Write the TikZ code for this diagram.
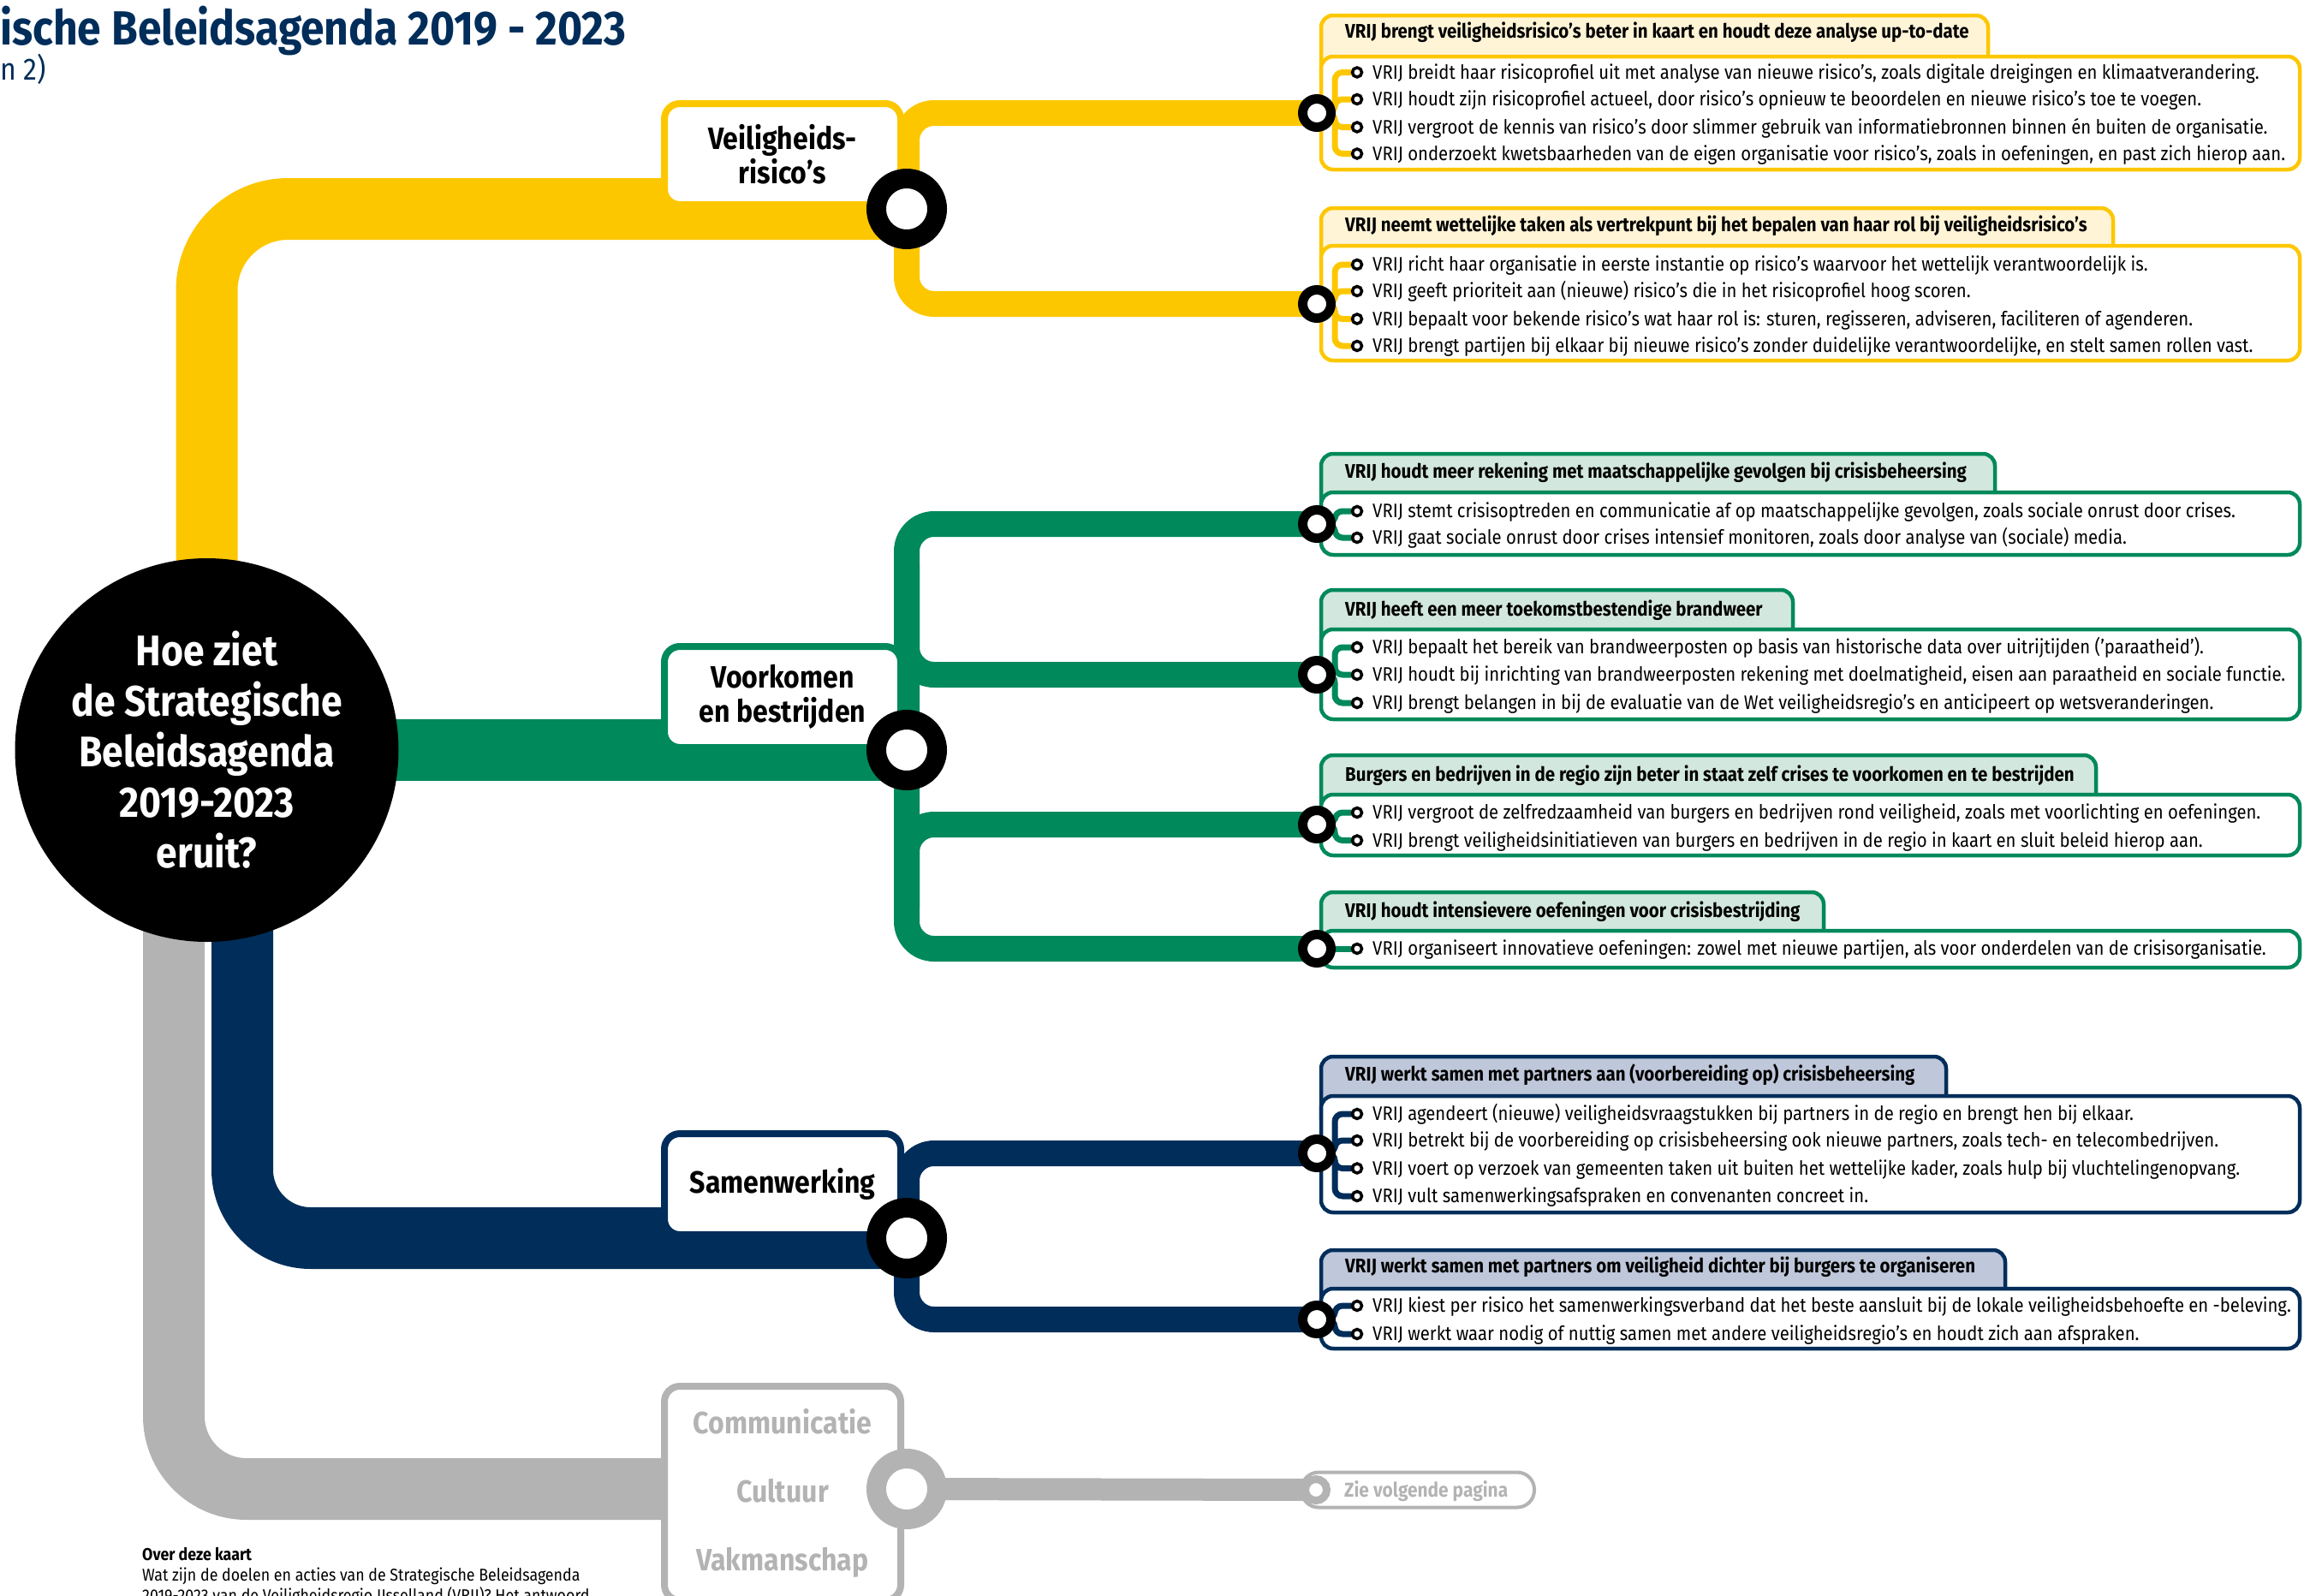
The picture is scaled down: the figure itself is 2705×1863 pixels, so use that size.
\documentclass[tikz,border=0pt]{standalone}
\usepackage{fontspec}
\setmainfont{Fira Sans}[FakeStretch=0.89]
\usetikzlibrary{calc}

\definecolor{vyellow}{RGB}{253,199,0}
\definecolor{vgreen}{RGB}{0,137,90}
\definecolor{vnavy}{RGB}{0,45,90}
\definecolor{vgrey}{RGB}{179,179,179}
\definecolor{lyellow}{RGB}{255,244,214}
\definecolor{lgreen}{RGB}{210,231,221}
\definecolor{lnavy}{RGB}{191,199,218}

\tikzset{
  trunk/.style={line width=72pt},
  branch/.style={line width=30pt, rounded corners=32pt},
  stub/.style={line width=7pt, rounded corners=9pt},
  labelbox/.style={draw, fill=white, line width=8pt, rounded corners=18pt,
    minimum width=276pt, minimum height=118pt, inner sep=0, align=center,
    font=\bfseries\fontsize{36}{40}\selectfont},
  junring/.style={circle, draw=black, fill=white, line width=23pt, minimum size=71pt, inner sep=0},
  goalring/.style={circle, draw=black, fill=white, line width=11pt, minimum size=33pt, inner sep=0},
  itemring/.style={circle, draw=black, fill=white, line width=3.5pt, minimum size=11pt, inner sep=0},
  tabbox/.style={line width=4.5pt, rounded corners=14pt},
  bodybox/.style={line width=4.5pt, fill=white, rounded corners=14pt},
  headtext/.style={anchor=base west, inner sep=0, font=\bfseries\fontsize{23}{27}\selectfont},
  itemtext/.style={anchor=base west, inner sep=0, font=\fontsize{22.8}{27}\selectfont},
  smalltext/.style={anchor=base west, inner sep=0, font=\fontsize{20}{24}\selectfont},
}

\begin{document}
\begin{tikzpicture}[x=1pt, y=-1pt]
\useasboundingbox (0,0) rectangle (2705,1863);

% stations
\coordinate (hub) at (241.5,876);
\coordinate (hubn) at (283,876);
\coordinate (hubg) at (203,876);
\coordinate (j1) at (1059,244);
\coordinate (j2) at (1059,876);
\coordinate (j3) at (1059,1446);
\coordinate (j4) at (1059,1739);
\coordinate (j2up) at (1059,660);
\coordinate (j2dn) at (1059,1060);
\coordinate (g1) at (1538,132);
\coordinate (g2) at (1538,355);
\coordinate (g3) at (1538,612);
\coordinate (g4) at (1538,788);
\coordinate (g5) at (1538,963);
\coordinate (g6) at (1538,1108);
\coordinate (g7) at (1538,1347);
\coordinate (g8) at (1538,1541);
\coordinate (g9) at (1537,1740);

% title
\node[anchor=base west, inner sep=0, text=vnavy, font=\bfseries\fontsize{56}{60}\selectfont] (title) at (0,52) {ische Beleidsagenda 2019 - 2023};
\node[anchor=base west, inner sep=0, text=vnavy, font=\fontsize{36}{42}\selectfont] (subtitle) at (0,93) {n 2)};

% goal boxes
\foreach \gc/\lc/\gt/\gm/\gb/\gr in {vyellow/lyellow/18/66/198/2322,
    vyellow/lyellow/243/287/421/2468, vgreen/lgreen/530/575/648/2330,
    vgreen/lgreen/689/735/840/2094, vgreen/lgreen/882/928/999/2448,
    vgreen/lgreen/1042/1087/1130/2130, vnavy/lnavy/1234/1280/1416/2273,
    vnavy/lnavy/1460/1505/1575/2342}
{
  \draw[tabbox, draw=\gc, fill=\lc] (1543,\gt) rectangle (\gr,\gm+40);
  \draw[bodybox, draw=\gc] (1543,\gm) rectangle (2686,\gb);
}
\node[draw=vgrey, line width=4pt, rounded corners=20pt, minimum width=272pt, minimum height=41pt, inner sep=0] (pill) at (1656,1740) {};

% lines
\draw[trunk, vyellow, rounded corners=95pt] (hub) |- (j1);
\draw[trunk, vnavy, rounded corners=80pt] (hubn) |- (j3);
\draw[trunk, vgrey, rounded corners=85pt] (hubg) |- (j4);
\draw[trunk, vgreen] (hub) -- (j2);

\draw[branch, vyellow] (g1) -| (j1);
\draw[branch, vyellow] (g2) -| (j1);
\draw[branch, vgreen] (g3) -| (j2);
\draw[branch, vgreen] (g4) -| (j2up);
\draw[branch, vgreen] (g6) -| (j2);
\draw[branch, vgreen] (g5) -| (j2dn);
\draw[branch, vnavy] (g7) -| (j3);
\draw[branch, vnavy] (g8) -| (j3);
\draw[vgrey, line width=26pt] (g9) -- (j4);

% themes
\node[labelbox, draw=vyellow] (risk) at (914,180) {Veiligheids-\\risico’s};
\node[labelbox, draw=vgreen] (prev) at (914,814) {Voorkomen\\en bestrijden};
\node[labelbox, draw=vnavy] (coop) at (914,1383) {Samenwerking};
\node[labelbox, draw=vgrey, text=vgrey, minimum height=250pt] (rest) at (914,1744) {Communicatie\\[40pt]Cultuur\\[40pt]Vakmanschap};

\node[circle, fill=black, minimum size=448pt, inner sep=0, text=white, align=center,
  font=\bfseries\fontsize{50}{59}\selectfont] (hubc) at (hub) {Hoe ziet\\de Strategische\\Beleidsagenda\\2019-2023\\eruit?};

\node[junring] (jr1) at (j1) {};
\node[junring] (jr2) at (j2) {};
\node[junring] (jr3) at (j3) {};
\node[junring, draw=vgrey] (jr4) at (j4) {};

% goal 1
\node[headtext] (g1h) at (1571,44) {VRIJ brengt veiligheidsrisico’s beter in kaart en houdt deze analyse up-to-date};
\foreach \y/\itm [count=\n] in {84.5/{VRIJ breidt haar risicoprofiel uit met analyse van nieuwe risico’s, zoals digitale dreigingen en klimaatverandering.},
    116/{VRIJ houdt zijn risicoprofiel actueel, door risico’s opnieuw te beoordelen en nieuwe risico’s toe te voegen.},
    148.5/{VRIJ vergroot de kennis van risico’s door slimmer gebruik van informatiebronnen binnen én buiten de organisatie.},
    179.5/{VRIJ onderzoekt kwetsbaarheden van de eigen organisatie voor risico’s, zoals in oefeningen, en past zich hierop aan.}}
{
  \coordinate (g1i\n) at (1585,\y);
  \draw[stub, vyellow] (g1i\n) -| ($(g1)+(21,0)$) -- (g1);
  \node[itemring] (g1r\n) at (g1i\n) {};
  \node[itemtext] (g1t\n) at (1603,\y+7.5) {\itm};
}
\node[goalring] (g1r) at (g1) {};

% goal 2
\node[headtext] (g2h) at (1571,270) {VRIJ neemt wettelijke taken als vertrekpunt bij het bepalen van haar rol bij veiligheidsrisico’s};
\foreach \y/\itm [count=\n] in {309/{VRIJ richt haar organisatie in eerste instantie op risico’s waarvoor het wettelijk verantwoordelijk is.},
    340/{VRIJ geeft prioriteit aan (nieuwe) risico’s die in het risicoprofiel hoog scoren.},
    372.5/{VRIJ bepaalt voor bekende risico’s wat haar rol is: sturen, regisseren, adviseren, faciliteren of agenderen.},
    404/{VRIJ brengt partijen bij elkaar bij nieuwe risico’s zonder duidelijke verantwoordelijke, en stelt samen rollen vast.}}
{
  \coordinate (g2i\n) at (1585,\y);
  \draw[stub, vyellow] (g2i\n) -| ($(g2)+(21,0)$) -- (g2);
  \node[itemring] (g2r\n) at (g2i\n) {};
  \node[itemtext] (g2t\n) at (1603,\y+7.5) {\itm};
}
\node[goalring] (g2r) at (g2) {};

% goal 3
\node[headtext] (g3h) at (1571,558) {VRIJ houdt meer rekening met maatschappelijke gevolgen bij crisisbeheersing};
\foreach \y/\itm [count=\n] in {597/{VRIJ stemt crisisoptreden en communicatie af op maatschappelijke gevolgen, zoals sociale onrust door crises.},
    628/{VRIJ gaat sociale onrust door crises intensief monitoren, zoals door analyse van (sociale) media.}}
{
  \coordinate (g3i\n) at (1585,\y);
  \draw[stub, vgreen] (g3i\n) -| ($(g3)+(21,0)$) -- (g3);
  \node[itemring] (g3r\n) at (g3i\n) {};
  \node[itemtext] (g3t\n) at (1603,\y+7.5) {\itm};
}
\node[goalring] (g3r) at (g3) {};

% goal 4
\node[headtext] (g4h) at (1571,719) {VRIJ heeft een meer toekomstbestendige brandweer};
\foreach \y/\itm [count=\n] in {756/{VRIJ bepaalt het bereik van brandweerposten op basis van historische data over uitrijtijden (’paraatheid’).},
    788/{VRIJ houdt bij inrichting van brandweerposten rekening met doelmatigheid, eisen aan paraatheid en sociale functie.},
    821/{VRIJ brengt belangen in bij de evaluatie van de Wet veiligheidsregio’s en anticipeert op wetsveranderingen.}}
{
  \coordinate (g4i\n) at (1585,\y);
  \draw[stub, vgreen] (g4i\n) -| ($(g4)+(21,0)$) -- (g4);
  \node[itemring] (g4r\n) at (g4i\n) {};
  \node[itemtext] (g4t\n) at (1603,\y+7.5) {\itm};
}
\node[goalring] (g4r) at (g4) {};

% goal 5
\node[headtext] (g5h) at (1571,912) {Burgers en bedrijven in de regio zijn beter in staat zelf crises te voorkomen en te bestrijden};
\foreach \y/\itm [count=\n] in {949/{VRIJ vergroot de zelfredzaamheid van burgers en bedrijven rond veiligheid, zoals met voorlichting en oefeningen.},
    981.5/{VRIJ brengt veiligheidsinitiatieven van burgers en bedrijven in de regio in kaart en sluit beleid hierop aan.}}
{
  \coordinate (g5i\n) at (1585,\y);
  \draw[stub, vgreen] (g5i\n) -| ($(g5)+(21,0)$) -- (g5);
  \node[itemring] (g5r\n) at (g5i\n) {};
  \node[itemtext] (g5t\n) at (1603,\y+7.5) {\itm};
}
\node[goalring] (g5r) at (g5) {};

% goal 6
\node[headtext] (g6h) at (1571,1071) {VRIJ houdt intensievere oefeningen voor crisisbestrijding};
\coordinate (g6i1) at (1585,1108);
\draw[stub, vgreen] (g6i1) -- (g6);
\node[itemring] (g6r1) at (g6i1) {};
\node[itemtext] (g6t1) at (1603,1115.5) {VRIJ organiseert innovatieve oefeningen: zowel met nieuwe partijen, als voor onderdelen van de crisisorganisatie.};
\node[goalring] (g6r) at (g6) {};

% goal 7
\node[headtext] (g7h) at (1571,1262) {VRIJ werkt samen met partners aan (voorbereiding op) crisisbeheersing};
\foreach \y/\itm [count=\n] in {1301/{VRIJ agendeert (nieuwe) veiligheidsvraagstukken bij partners in de regio en brengt hen bij elkaar.},
    1332/{VRIJ betrekt bij de voorbereiding op crisisbeheersing ook nieuwe partners, zoals tech- en telecombedrijven.},
    1364.5/{VRIJ voert op verzoek van gemeenten taken uit buiten het wettelijke kader, zoals hulp bij vluchtelingenopvang.},
    1397/{VRIJ vult samenwerkingsafspraken en convenanten concreet in.}}
{
  \coordinate (g7i\n) at (1585,\y);
  \draw[stub, vnavy] (g7i\n) -| ($(g7)+(21,0)$) -- (g7);
  \node[itemring] (g7r\n) at (g7i\n) {};
  \node[itemtext] (g7t\n) at (1603,\y+7.5) {\itm};
}
\node[goalring] (g7r) at (g7) {};

% goal 8
\node[headtext] (g8h) at (1571,1486) {VRIJ werkt samen met partners om veiligheid dichter bij burgers te organiseren};
\foreach \y/\itm [count=\n] in {1525/{VRIJ kiest per risico het samenwerkingsverband dat het beste aansluit bij de lokale veiligheidsbehoefte en -beleving.},
    1558/{VRIJ werkt waar nodig of nuttig samen met andere veiligheidsregio’s en houdt zich aan afspraken.}}
{
  \coordinate (g8i\n) at (1585,\y);
  \draw[stub, vnavy] (g8i\n) -| ($(g8)+(21,0)$) -- (g8);
  \node[itemring] (g8r\n) at (g8i\n) {};
  \node[itemtext] (g8t\n) at (1603,\y+7.5) {\itm};
}
\node[goalring] (g8r) at (g8) {};

% next page
\node[goalring, draw=vgrey, line width=9pt, minimum size=25pt] (g9r) at (g9) {};
\node[headtext, text=vgrey, font=\bfseries\fontsize{23.5}{27}\selectfont] (zie) at (1570,1748) {Zie volgende pagina};

% about
\node[smalltext, font=\bfseries\fontsize{20}{24}\selectfont] (about1) at (166,1822) {Over deze kaart};
\node[smalltext] (about2) at (166,1846) {Wat zijn de doelen en acties van de Strategische Beleidsagenda};
\node[smalltext] (about3) at (166,1870) {2019-2023 van de Veiligheidsregio IJsselland (VRIJ)? Het antwoord};

\end{tikzpicture}
\end{document}
